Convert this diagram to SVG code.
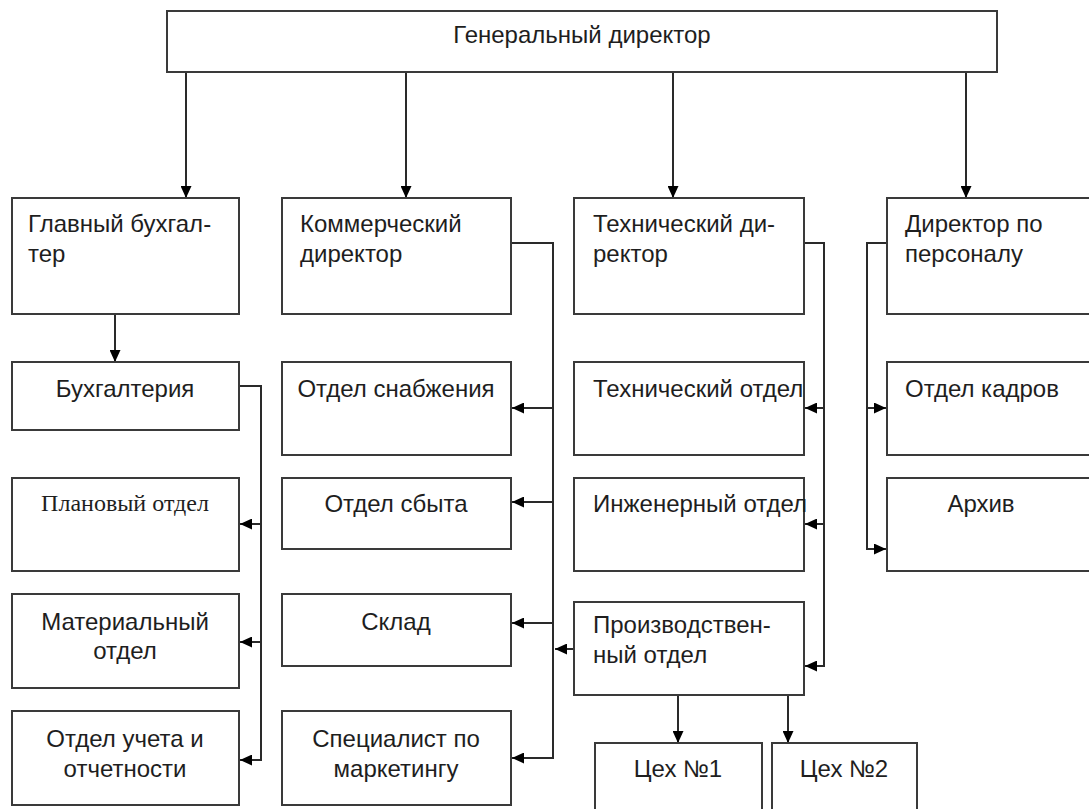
<svg xmlns="http://www.w3.org/2000/svg" width="1089" height="809" viewBox="0 0 1089 809">
<style>
.box{fill:#fff;stroke:#3a3a3a;stroke-width:2}
.t{font-family:"Liberation Sans",Arial,sans-serif;font-size:24px;fill:#1e1e1e}
.s{font-family:"Liberation Serif","Times New Roman",serif;font-size:24px;fill:#1e1e1e}
.m{text-anchor:middle}
.c{fill:none;stroke:#2a2a2a;stroke-width:2}
</style>
<defs>
<marker id="ah" markerUnits="userSpaceOnUse" markerWidth="12" markerHeight="11" refX="12" refY="5.5" orient="auto">
<path d="M0,0 L12,5.5 L0,11 z" fill="#000"/>
</marker>
</defs>
<rect width="1089" height="809" fill="#fff"/>
<g id="connectors">
<path class="c" d="M186,72 V198" marker-end="url(#ah)"/>
<path class="c" d="M406,72 V198" marker-end="url(#ah)"/>
<path class="c" d="M673,72 V198" marker-end="url(#ah)"/>
<path class="c" d="M966,72 V198" marker-end="url(#ah)"/>
<path class="c" d="M115,314 V362" marker-end="url(#ah)"/>
<path class="c" d="M239,386 H261 V760 H240" marker-end="url(#ah)"/>
<path class="c" d="M261,524 H240" marker-end="url(#ah)"/>
<path class="c" d="M261,642 H240" marker-end="url(#ah)"/>
<path class="c" d="M511,243 H553 V758 H512" marker-end="url(#ah)"/>
<path class="c" d="M553,408 H512" marker-end="url(#ah)"/>
<path class="c" d="M553,502 H512" marker-end="url(#ah)"/>
<path class="c" d="M553,623 H512" marker-end="url(#ah)"/>
<path class="c" d="M574,649 H555" marker-end="url(#ah)"/>
<path class="c" d="M804,243 H824 V666 H805" marker-end="url(#ah)"/>
<path class="c" d="M824,408 H805" marker-end="url(#ah)"/>
<path class="c" d="M824,524 H805" marker-end="url(#ah)"/>
<path class="c" d="M887,243 H867 V549 H886" marker-end="url(#ah)"/>
<path class="c" d="M867,408 H886" marker-end="url(#ah)"/>
<path class="c" d="M678,695 V743" marker-end="url(#ah)"/>
<path class="c" d="M788,695 V743" marker-end="url(#ah)"/>
</g>
<g id="gen-dir"><rect class="box" x="167" y="11" width="830" height="61"/><text class="t m" x="582" y="43">Генеральный директор</text></g>
<g id="glav-buh"><rect class="box" x="12" y="198" width="227" height="116"/><text class="t" x="28" y="232">Главный бухгал-</text><text class="t" x="28" y="262">тер</text></g>
<g id="kom-dir"><rect class="box" x="282" y="198" width="229" height="116"/><text class="t" x="300" y="232">Коммерческий</text><text class="t" x="300" y="262">директор</text></g>
<g id="teh-dir"><rect class="box" x="574" y="198" width="230" height="116"/><text class="t" x="593" y="232">Технический ди-</text><text class="t" x="593" y="262">ректор</text></g>
<g id="dir-pers"><rect class="box" x="887" y="198" width="220" height="116"/><text class="t" x="905" y="232">Директор по</text><text class="t" x="905" y="262">персоналу</text></g>
<g id="buh"><rect class="box" x="12" y="362" width="227" height="68"/><text class="t m" x="125" y="397">Бухгалтерия</text></g>
<g id="snab"><rect class="box" x="282" y="362" width="229" height="93"/><text class="t m" x="396" y="397">Отдел снабжения</text></g>
<g id="teh-otd"><rect class="box" x="574" y="362" width="230" height="93"/><text class="t" x="593" y="397">Технический отдел</text></g>
<g id="kadry"><rect class="box" x="887" y="362" width="220" height="93"/><text class="t m" x="982" y="397">Отдел кадров</text></g>
<g id="plan"><rect class="box" x="12" y="478" width="227" height="93"/><text class="s m" x="125" y="511">Плановый отдел</text></g>
<g id="sbyt"><rect class="box" x="282" y="478" width="229" height="71"/><text class="t m" x="396" y="512">Отдел сбыта</text></g>
<g id="inzh"><rect class="box" x="574" y="478" width="230" height="93"/><text class="t" x="593" y="512">Инженерный отдел</text></g>
<g id="arhiv"><rect class="box" x="887" y="478" width="220" height="93"/><text class="t m" x="981" y="512">Архив</text></g>
<g id="mater"><rect class="box" x="12" y="594" width="227" height="94"/><text class="t m" x="125" y="630">Материальный</text><text class="t m" x="125" y="659">отдел</text></g>
<g id="sklad"><rect class="box" x="282" y="594" width="229" height="72"/><text class="t m" x="396" y="630">Склад</text></g>
<g id="proizv"><rect class="box" x="574" y="602" width="230" height="93"/><text class="t" x="593" y="633">Производствен-</text><text class="t" x="593" y="663">ный отдел</text></g>
<g id="uchet"><rect class="box" x="12" y="711" width="227" height="94"/><text class="t m" x="125" y="747">Отдел учета и</text><text class="t m" x="125" y="777">отчетности</text></g>
<g id="market"><rect class="box" x="282" y="711" width="229" height="94"/><text class="t m" x="396" y="747">Специалист по</text><text class="t m" x="396" y="777">маркетингу</text></g>
<g id="ceh1"><rect class="box" x="595" y="743" width="167" height="80"/><text class="t m" x="678" y="777">Цех №1</text></g>
<g id="ceh2"><rect class="box" x="772" y="743" width="145" height="80"/><text class="t m" x="844" y="777">Цех №2</text></g>
</svg>
